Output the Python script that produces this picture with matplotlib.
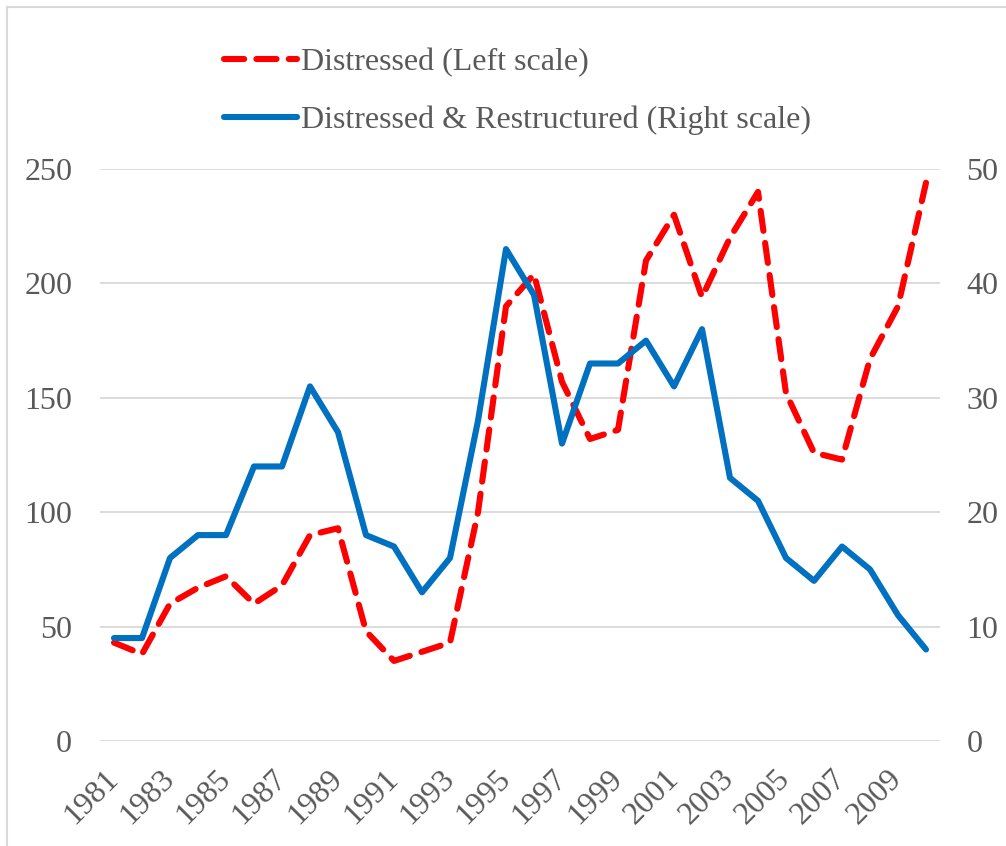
import matplotlib
matplotlib.use("Agg")
import matplotlib.pyplot as plt
from matplotlib.lines import Line2D
from matplotlib.patches import Rectangle

years = list(range(1981, 2011))
distressed = [43, 38, 60, 67, 72, 60, 68, 90, 93, 48, 35, 39, 43, 100, 190,
              204, 157, 132, 136, 210, 230, 194, 220, 240, 152, 126, 123, 167, 190, 244]
restructured = [9, 9, 16, 18, 18, 24, 24, 31, 27, 18, 17, 13, 16, 28, 43,
                39, 26, 33, 33, 35, 31, 36, 23, 21, 16, 14, 17, 15, 11, 8]
left_ticks = [0, 50, 100, 150, 200, 250]
right_ticks = [0, 10, 20, 30, 40, 50]
label_years = years[::2]

RED = "#FF0000"
BLUE = "#0070C0"
GREY = "#595959"

plt.rcParams['font.family'] = ['Liberation Serif', 'DejaVu Serif']

fig = plt.figure(figsize=(10.06, 8.46), dpi=100)
ax = fig.add_axes([0.0994, 0.1241, 0.8350, 0.6761])
ax2 = ax.twinx()

ax.plot(years, distressed, color=RED, lw=4.4, dashes=(3.3, 2.0),
        dash_capstyle='round', solid_joinstyle='round', zorder=3)
ax2.plot(years, restructured, color=BLUE, lw=4.4,
         solid_capstyle='round', solid_joinstyle='round', zorder=3)

ax.set_xlim(1980.5, 2010.5)
ax.set_ylim(0, 250)
ax2.set_ylim(0, 50)
ax.set_yticks(left_ticks)
ax2.set_yticks(right_ticks)
ax.grid(axis='y', color='#D9D9D9', lw=1.3)
ax.set_axisbelow(True)

for a in (ax, ax2):
    for s in a.spines.values():
        s.set_visible(False)
    a.tick_params(length=0, labelsize=23, labelcolor=GREY)
ax.tick_params(axis='y', pad=20)
ax2.tick_params(axis='y', pad=19)

ax.set_xticks(label_years)
ax.set_xticklabels([str(y) for y in label_years], rotation=45, ha='right',
                   va='center', rotation_mode='anchor', fontsize=23)
ax.tick_params(axis='x', pad=24)

handles = [Line2D([], [], color=RED, lw=4.4, dashes=(3.3, 2.0), dash_capstyle='round'),
           Line2D([], [], color=BLUE, lw=4.4, solid_capstyle='round')]
leg = fig.legend(handles, ['Distressed (Left scale)', 'Distressed & Restructured (Right scale)'],
                 loc='upper left', bbox_to_anchor=(0.194, 0.978), frameon=False,
                 fontsize=23, handlelength=2.3, handletextpad=0.1, labelspacing=0.9)
for t in leg.get_texts():
    t.set_color(GREY)

fig.patches.append(Rectangle((7 / 1006, -0.05), 1.1, 1 - 7 / 846 + 0.05,
                             transform=fig.transFigure, fill=False,
                             edgecolor='#D9D9D9', lw=1.5))

fig.savefig("out.png", dpi=100)
